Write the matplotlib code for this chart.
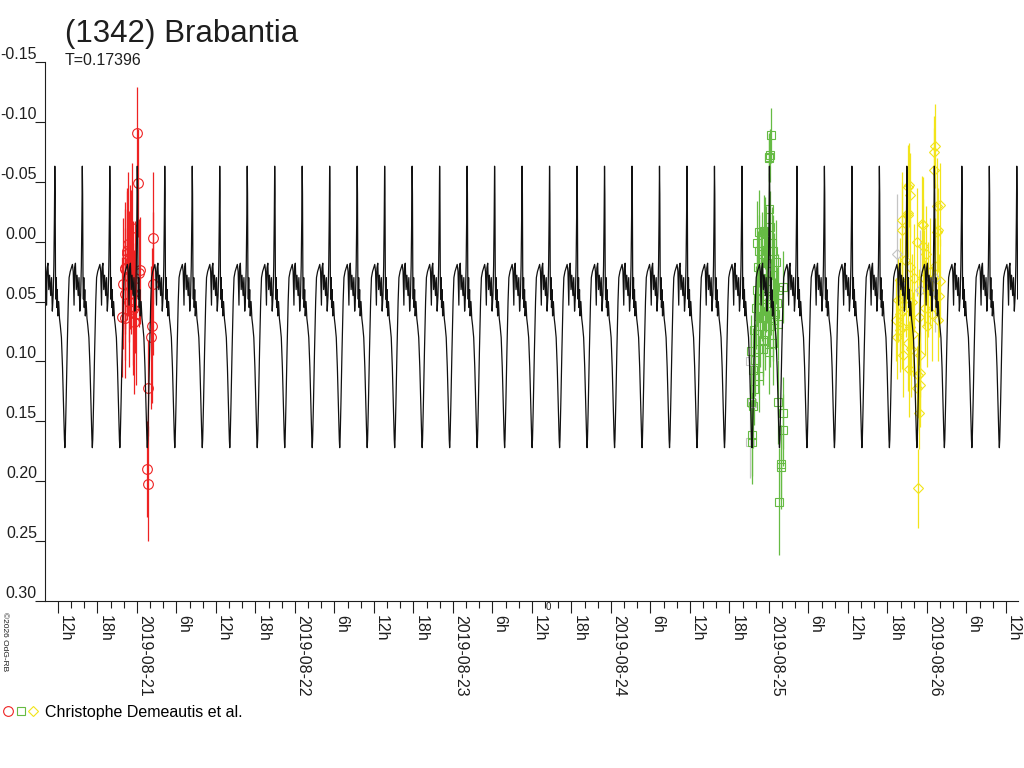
import datetime as dt
import numpy as np
import matplotlib
matplotlib.use("Agg")
import matplotlib.pyplot as plt
import matplotlib.dates as mdates
from matplotlib.ticker import FuncFormatter
from matplotlib.legend_handler import HandlerTuple
from matplotlib.lines import Line2D

plt.rcParams['font.family'] = ['Liberation Sans', 'DejaVu Sans']

title = "(1342) Brabantia"
period_label = "T=0.17396"
observer = "Christophe Demeautis et al."
copyright_label = "\u00a92026 OdG-RB"

period = 0.17396                         # days
epoch = dt.datetime(2019, 8, 21, 0, 3)   # a maximum of the model
base = dt.datetime(2019, 8, 21)          # time origin of the data below
x_start = dt.datetime(2019, 8, 20, 10, 2)
x_end = dt.datetime(2019, 8, 26, 13, 50)

# one cycle of the model curve: phase from maximum, magnitude
cycle_phase = [0.000, 0.012, 0.025, 0.040, 0.055, 0.070, 0.090, 0.110, 0.140,
               0.170, 0.200, 0.240, 0.280, 0.320, 0.350, 0.365, 0.380, 0.410,
               0.450, 0.490, 0.520, 0.560, 0.600, 0.640, 0.670, 0.700, 0.720,
               0.750, 0.780, 0.810, 0.850, 0.880, 0.910, 0.940, 0.965, 0.985]
cycle_mag = [-0.063, -0.040, 0.030, 0.048, 0.030, 0.055, 0.040, 0.062, 0.050,
             0.064, 0.070, 0.080, 0.105, 0.140, 0.165, 0.172, 0.165, 0.135,
             0.090, 0.050, 0.030, 0.025, 0.022, 0.019, 0.025, 0.053, 0.022,
             0.018, 0.040, 0.028, 0.045, 0.030, 0.058, 0.045, 0.020, -0.020]

# observations: days since 2019-08-21 00:00 UT, magnitude, error
red_t = [0.000, 0.004, -0.030, -0.059, 0.099, -0.065, -0.078, 0.015, -0.087,
         0.103, -0.076, -0.025, -0.023, -0.074, -0.021, 0.096, 0.087, 0.072,
         0.065, 0.070, -0.042, -0.053, -0.011, -0.063, 0.021, -0.074, -0.038,
         -0.051, -0.006, -0.095]
red_mag = [-0.091, -0.049, -0.011, 0.002, -0.003, 0.010, 0.023, 0.026, 0.035,
           0.035, 0.044, 0.043, 0.056, 0.064, 0.067, 0.070, 0.080, 0.122,
           0.190, 0.202, 0.013, 0.029, 0.038, 0.008, 0.024, 0.022, 0.017,
           0.050, 0.060, 0.063]
red_err = [0.038, 0.045, 0.055, 0.060, 0.055, 0.055, 0.050, 0.045, 0.055,
           0.060, 0.055, 0.060, 0.055, 0.050, 0.060, 0.065, 0.060, 0.040,
           0.040, 0.048, 0.060, 0.055, 0.055, 0.050, 0.045, 0.055, 0.060,
           0.055, 0.060, 0.050]

green_t = [4.011, 4.002, 4.000, 4.006, 3.998, 4.006, 3.939, 3.968, 3.926,
           3.939, 4.017, 4.024, 4.044, 3.932, 3.989, 4.090, 3.926, 4.049,
           3.918, 3.964, 4.024, 4.055, 3.905, 3.960, 3.960, 3.884, 3.911,
           3.901, 3.905, 3.884, 3.897, 4.059, 4.087, 4.087, 3.891, 3.891,
           4.074, 4.074, 4.065, 3.975, 3.949, 3.981, 3.994, 4.009, 3.943,
           3.972, 4.028, 3.953, 4.035, 3.987, 4.013, 3.928, 4.041, 3.956,
           3.984, 3.930, 4.003, 4.060, 3.937]
green_mag = [-0.089, -0.071, -0.070, -0.072, -0.027, -0.012, -0.008, -0.009,
             0.001, 0.008, 0.001, 0.008, 0.017, 0.021, 0.018, 0.038, 0.040,
             0.051, 0.055, 0.063, 0.065, 0.069, 0.074, 0.082, 0.090, 0.091,
             0.099, 0.107, 0.123, 0.134, 0.137, 0.134, 0.143, 0.157, 0.161,
             0.167, 0.186, 0.188, 0.217, -0.007, 0.030, 0.045, 0.058, 0.070,
             0.070, 0.077, 0.085, 0.048, 0.028, 0.033, 0.048, 0.062, 0.060,
             0.010, 0.000, 0.090, 0.092, 0.040, 0.112]
green_err = [0.023, 0.020, 0.020, 0.022, 0.030, 0.030, 0.035, 0.030, 0.035,
             0.030, 0.030, 0.030, 0.035, 0.030, 0.030, 0.030, 0.030, 0.030,
             0.035, 0.030, 0.035, 0.030, 0.030, 0.030, 0.030, 0.030, 0.030,
             0.035, 0.030, 0.030, 0.035, 0.035, 0.030, 0.030, 0.035, 0.035,
             0.030, 0.035, 0.045, 0.030, 0.035, 0.030, 0.030, 0.035, 0.035,
             0.030, 0.035, 0.035, 0.035, 0.035, 0.030, 0.030, 0.030, 0.035,
             0.030, 0.030, 0.035, 0.030, 0.030]

yellow_t = [5.051, 5.044, 5.044, 4.882, 4.892, 4.840, 4.882, 4.840, 5.061,
            4.973, 5.071, 4.977, 4.892, 4.829, 4.819, 5.082, 4.829, 4.829,
            4.892, 4.882, 4.914, 4.956, 4.888, 4.945, 4.956, 4.935, 4.951,
            4.945, 4.888, 4.882, 4.966, 5.082, 5.061, 4.840, 4.840, 4.840,
            4.951, 4.956, 4.861, 4.918, 4.994, 5.006, 5.019, 5.032, 4.987,
            4.905, 4.867, 5.000, 5.076, 5.054, 4.937, 4.851, 5.070, 4.899,
            4.981, 4.807, 4.813]
yellow_mag = [-0.080, -0.075, -0.060, -0.046, -0.039, -0.018, -0.022, -0.010,
              -0.030, -0.014, -0.010, 0.004, 0.021, 0.032, 0.049, 0.033,
              0.060, 0.074, 0.071, 0.085, 0.077, 0.095, 0.106, 0.111, 0.120,
              0.122, 0.143, 0.206, -0.047, -0.024, -0.015, -0.031, -0.008,
              0.047, 0.058, 0.071, 0.063, 0.110, 0.015, 0.030, 0.010, 0.040,
              0.025, 0.060, 0.055, 0.050, 0.040, 0.070, 0.045, 0.020, 0.000,
              0.095, 0.065, 0.090, 0.030, 0.065, 0.080]
yellow_err = [0.035, 0.030, 0.035, 0.035, 0.035, 0.040, 0.035, 0.040, 0.040,
              0.040, 0.035, 0.040, 0.040, 0.035, 0.035, 0.035, 0.035, 0.035,
              0.040, 0.040, 0.035, 0.035, 0.040, 0.035, 0.035, 0.035, 0.030,
              0.033, 0.035, 0.035, 0.040, 0.035, 0.040, 0.040, 0.035, 0.035,
              0.040, 0.035, 0.040, 0.045, 0.040, 0.040, 0.045, 0.040, 0.040,
              0.040, 0.040, 0.035, 0.035, 0.040, 0.045, 0.035, 0.035, 0.040,
              0.040, 0.035, 0.035]

# points drawn in grey (not in the legend)
grey_sq_t = [3.883, 3.895, 3.883]
grey_sq_mag = [0.100, 0.135, 0.167]
grey_sq_err = [0.030, 0.030, 0.030]
grey_di_t = [4.810, 4.956, 5.054]
grey_di_mag = [0.010, 0.040, 0.030]
grey_di_err = [0.050, 0.050, 0.045]

y_ticks = [-0.15, -0.10, -0.05, 0.00, 0.05, 0.10, 0.15, 0.20, 0.25, 0.30]

RED = '#ee2222'
GREEN = '#66bb44'
YELLOW = '#f2e41a'
GREY = '#c4c4c4'
INK = '#1e1e1e'

t0 = mdates.date2num(base)
ep = mdates.date2num(epoch)

fig = plt.figure(figsize=(10.24, 7.68), dpi=100)
ax = fig.add_axes([45 / 1024, 1 - 601 / 768, 973 / 1024, 539 / 768])

def obs(t, mag, err, color, marker, ms):
    ax.errorbar(t0 + np.array(t), mag, yerr=err, fmt=marker, ms=ms,
                mfc='none', mec=color, mew=0.8, ecolor=color,
                elinewidth=0.9, capsize=0, zorder=3)

obs(grey_sq_t, grey_sq_mag, grey_sq_err, GREY, 's', 6)
obs(grey_di_t, grey_di_mag, grey_di_err, GREY, 'D', 5)
obs(red_t, red_mag, red_err, RED, 'o', 7)
obs(green_t, green_mag, green_err, GREEN, 's', 6)
obs(yellow_t, yellow_mag, yellow_err, YELLOW, 'D', 5)

# model curve, the same cycle repeated with the period
curve_t, curve_m = [], []
for k in range(-5, 35):
    curve_t.extend(ep + (k + np.array(cycle_phase)) * period)
    curve_m.extend(cycle_mag)
ax.plot(curve_t, curve_m, color='#111111', lw=0.9, zorder=4)

ax.set_xlim(mdates.date2num(x_start), mdates.date2num(x_end))
ax.set_ylim(0.30, -0.15)

for s in ['top', 'right']:
    ax.spines[s].set_visible(False)
for s in ['left', 'bottom']:
    ax.spines[s].set_linewidth(0.8)
    ax.spines[s].set_color(INK)

ax.set_yticks(y_ticks, [f"{v:.2f}" for v in y_ticks])
ax.tick_params(axis='y', length=7.2, width=0.8, pad=-1.4, labelsize=11.5,
               colors=INK)
for lab in ax.get_yticklabels():
    lab.set_va('bottom')

def hour_label(x, pos):
    d = mdates.num2date(round(x * 24) / 24)
    if d.hour == 0:
        return d.strftime('%Y-%m-%d')
    return f"{d.hour}h"

ax.xaxis.set_major_locator(mdates.HourLocator(byhour=[0, 6, 12, 18]))
ax.xaxis.set_minor_locator(mdates.HourLocator(byhour=range(0, 24, 2)))
ax.xaxis.set_major_formatter(FuncFormatter(hour_label))
ax.tick_params(axis='x', which='major', length=8.6, width=0.8, pad=1.4,
               labelsize=11.5, colors=INK)
ax.tick_params(axis='x', which='minor', length=5, width=0.8, colors=INK)
for lab in ax.get_xticklabels():
    lab.set_rotation(270)
    lab.set_ha('left')
    lab.set_va('top')

fig.text(65 / 1024, 1 - 42 / 768, title, fontsize=22.5, color=INK,
         va='baseline')
fig.text(65 / 1024, 1 - 65 / 768, period_label, fontsize=11.5, color=INK,
         va='baseline')
fig.text(0.5 / 1024, 1 - 612 / 768, copyright_label, fontsize=6, color=INK,
         rotation=270, ha='left', va='top')
fig.text(546 / 1024, 1 - 602 / 768, "0", fontsize=7, color=INK, va='top')

handles = (Line2D([], [], ls='none', marker='o', ms=7, mfc='none', mec=RED, mew=0.8),
           Line2D([], [], ls='none', marker='s', ms=6, mfc='none', mec=GREEN, mew=0.8),
           Line2D([], [], ls='none', marker='D', ms=5, mfc='none', mec=YELLOW, mew=0.8))
fig.legend(handles=[handles], labels=[observer],
           handler_map={tuple: HandlerTuple(ndivide=None, pad=0.1)},
           loc='center left', bbox_to_anchor=(3 / 1024, 1 - 712 / 768),
           frameon=False, handlelength=2.2, handletextpad=0.45,
           borderpad=0, borderaxespad=0, fontsize=11.5)

fig.savefig("out.png", dpi=100)
